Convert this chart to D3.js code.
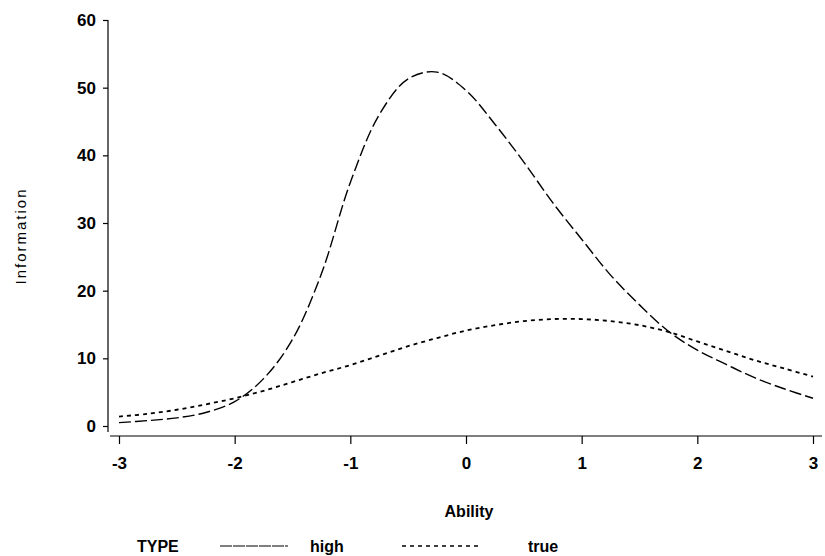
<!DOCTYPE html>
<meta charset="utf-8">
<style>
body { margin: 0; background: #fff; }
svg { display: block; }
text {
    font-family: "Liberation Sans", Arial, sans-serif;
    fill: #000;
}
.tick text {
    font-size: 17px;
    font-weight: bold;
}
.axis line, .axis path {
    stroke: #000;
    stroke-width: 1.2;
}
.curve {
    fill: none;
    stroke: #000;
}
</style>
<svg width="825" height="556"></svg>
<script src="https://d3js.org/d3.v7.min.js"></script>
<script>
// test information curves, two types
var ability = [-3, -2.75, -2.5, -2.25, -2, -1.75, -1.5, -1.25, -1, -0.75, -0.5, -0.25,
               0, 0.25, 0.5, 0.75, 1, 1.25, 1.5, 1.75, 2, 2.25, 2.5, 2.75, 3];
var high = [0.5, 0.8, 1.2, 2.0, 3.6, 7.0, 12.8, 22.5, 36.0, 46.0, 51.3, 52.3,
            49.6, 44.6, 39.0, 33.0, 27.6, 22.3, 17.9, 14.0, 11.2, 9.1, 7.1, 5.5, 4.1];
var truth = [1.4, 1.8, 2.4, 3.2, 4.1, 5.2, 6.5, 7.8, 9.0, 10.4, 11.8, 13.0,
             14.1, 14.9, 15.5, 15.8, 15.8, 15.5, 14.9, 13.9, 12.5, 11.1, 9.7, 8.5, 7.3];
var xTicks = [-3, -2, -1, 0, 1, 2, 3];
var yTicks = [0, 10, 20, 30, 40, 50, 60];

var svg = d3.select("svg");

var xScale = d3.scaleLinear().domain([-3, 3]).range([119, 813]);
var yScale = d3.scaleLinear().domain([0, 60]).range([426, 20]);

// x axis
var xAxis = svg.append("g")
    .attr("class", "axis")
    .attr("transform", "translate(0,436)")
    .call(d3.axisBottom(xScale)
        .tickValues(xTicks)
        .tickSize(8)
        .tickSizeOuter(0)
        .tickPadding(13)
        .tickFormat(d3.format("d")));
xAxis.select(".domain").remove();
xAxis.append("line")
    .attr("x1", xScale(-3) - 9).attr("x2", xScale(3) + 9);
xAxis.selectAll(".tick text").text(function(d) { return String(d); });

// y axis
var yAxis = svg.append("g")
    .attr("class", "axis")
    .attr("transform", "translate(108,0)")
    .call(d3.axisLeft(yScale)
        .tickValues(yTicks)
        .tickSize(5)
        .tickSizeOuter(0)
        .tickPadding(7));
yAxis.select(".domain").remove();
yAxis.append("line")
    .attr("y1", yScale(60)).attr("y2", yScale(0) + 6);

var line = d3.line()
    .x(function(d, i) { return xScale(ability[i]); })
    .y(function(d) { return yScale(d); })
    .curve(d3.curveCatmullRom.alpha(0.5));

svg.append("path")
    .datum(high)
    .attr("class", "curve")
    .attr("stroke-width", 1.4)
    .attr("stroke-dasharray", "12,4")
    .attr("d", line);

svg.append("path")
    .datum(truth)
    .attr("class", "curve")
    .attr("stroke-width", 1.8)
    .attr("stroke-dasharray", "4,4")
    .attr("d", line);

// axis titles
svg.append("text")
    .attr("x", 469).attr("y", 517)
    .attr("text-anchor", "middle")
    .style("font-size", "16px")
    .style("font-weight", "bold")
    .text("Ability");

svg.append("text")
    .attr("transform", "translate(26,236) rotate(-90)")
    .attr("text-anchor", "middle")
    .style("font-size", "15px")
    .style("letter-spacing", "2px")
    .text("Information");

// legend
var legend = svg.append("g").attr("transform", "translate(0,546)");
legend.append("text")
    .attr("x", 137).attr("y", 6)
    .style("font-size", "16px").style("font-weight", "bold")
    .text("TYPE");
legend.append("line")
    .attr("x1", 220).attr("x2", 288)
    .attr("stroke", "#000").attr("stroke-width", 1.2)
    .attr("stroke-dasharray", "12,1");
legend.append("text")
    .attr("x", 310).attr("y", 6)
    .style("font-size", "16px").style("font-weight", "bold")
    .text("high");
legend.append("line")
    .attr("x1", 402).attr("x2", 482)
    .attr("stroke", "#000").attr("stroke-width", 1.5)
    .attr("stroke-dasharray", "4,4");
legend.append("text")
    .attr("x", 528).attr("y", 6)
    .style("font-size", "16px").style("font-weight", "bold")
    .text("true");
</script>
